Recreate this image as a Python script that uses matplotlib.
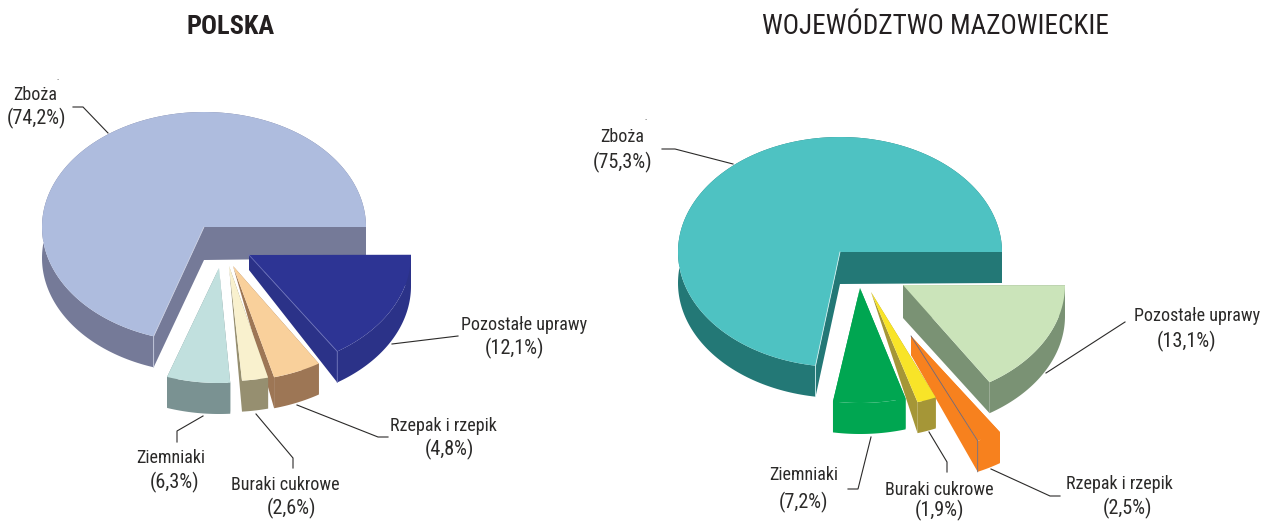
import numpy as np
import matplotlib
matplotlib.use('Agg')
import matplotlib.pyplot as plt
from matplotlib import font_manager as fm

categories = ['Zboża', 'Pozostałe uprawy', 'Rzepak i rzepik', 'Buraki cukrowe', 'Ziemniaki']
polska = [74.2, 12.1, 4.8, 2.6, 6.3]
mazowieckie = [75.3, 13.1, 2.5, 1.9, 7.2]
titles = ['POLSKA', 'WOJEWÓDZTWO MAZOWIECKIE']

# layout, in figure pixels: apex x, apex y, start angle, sweep factor, depth at apex
layout_pl = [(204, 227, 0, 0.943, 33), (249, 255, -57, 1.31, 15), (233, 266, -75.3, 1, 0),
             (229, 266, -85.4, 1, 0), (219, 268, -108.7, 1, 0)]
layout_maz = [(840, 252, 0, 0.964, 32), (903, 285, -57.7, 1.22, 33), (911, 336, -65.7, 1, 19),
              (871, 292, -73.3, 1, 0), (860, 288, -99.6, 1, 0)]

top_pl = ['#aebcde', '#2d3494', '#f9d09b', '#f9f1ce', '#c1e0de']
side_pl = ['#757a98', '#2b3288', '#9d7655', '#968f70', '#7a9292']
top_maz = ['#4ec2c2', '#cbe4ba', '#f7811e', '#f8e428', '#00a651']
side_maz = ['#237876', '#7a9274', '#f7811e', '#a59637', '#00a651']
edge_pl = ['#c8cde0', '#6a70b8', None, None, None]
edge_maz = ['#d0eeee', None, '#6a6a80', None, None]

leaders_pl = [[(73, 107), (83, 107), (108, 133)], [(392, 344), (458, 336)],
              [(297, 405), (378, 437), (388, 437)], [(256, 414), (293, 458), (293, 468)],
              [(203, 416), (177, 431), (177, 442)]]
leaders_maz = [[(662, 149), (675, 149), (733, 164)], [(1046, 373), (1125, 322)],
               [(991, 469), (1050, 496), (1060, 496)], [(929, 432), (947, 462), (947, 472)],
               [(871, 437), (858, 489), (848, 489)]]

# label centres: name x, name y, value x, value y
labels_pl = [(35, 95, 36, 118), (524, 325, 514, 348), (443, 426, 449, 449),
             (285, 485, 291, 508), (171, 458, 175, 482)]
labels_maz = [(622, 137, 623, 162), (1197, 316, 1187, 341), (1119, 484, 1127, 508),
              (939, 490, 939, 510), (804, 475, 804, 502)]

RX, RY, DEPTH = 162, 115, 31

names = {f.name for f in fm.fontManager.ttflist}
narrow = next((n for n in ['Roboto Condensed', 'Archivo Narrow', 'PT Sans Narrow'] if n in names),
              'Liberation Sans')
plt.rcParams['font.family'] = [narrow, 'DejaVu Sans']
label_size = 13 if narrow != 'Liberation Sans' else 11.2
value_size = label_size * 1.12

fig = plt.figure(figsize=(12.64, 5.21), dpi=100)
ax = fig.add_axes([0, 0, 1, 1])
ax.set_xlim(0, 1264)
ax.set_ylim(521, 0)
ax.axis('off')


def draw_slice(value, pos, top, side, edge):
    cx, cy, start, factor, apex_depth = pos
    theta = np.radians(np.linspace(start, start + value * 3.6 * factor, 200))
    x = cx + RX * np.cos(theta)
    y = cy - RY * np.sin(theta)
    # outer band and the two cut faces
    ax.fill(np.r_[x, x[::-1]], np.r_[y, y[::-1] + DEPTH], color=side, lw=0)
    for i in (0, -1):
        ax.fill([cx, x[i], x[i], cx], [cy, y[i], y[i] + DEPTH, cy + apex_depth], color=side, lw=0)
    ax.fill(np.r_[cx, x], np.r_[cy, y], color=top, lw=0)
    if edge:
        i = -1 if start == 0 else 0
        ax.plot([cx, x[i], x[i]], [cy, y[i], y[i] + DEPTH], color=edge, lw=0.6)


def draw_pie(values, layout, tops, sides, edges):
    for val, pos, t, s, e in zip(values, layout, tops, sides, edges):
        draw_slice(val, pos, t, s, e)


def draw_labels(values, leaders, labels):
    for cat, val, pts, lab in zip(categories, values, leaders, labels):
        ax.plot(*zip(*pts), color='#2b2a29', lw=0.8, solid_joinstyle='miter')
        ax.text(lab[0], lab[1], cat, ha='center', va='center', fontsize=label_size, color='#2b2a29')
        ax.text(lab[2], lab[3], '(%s%%)' % str(val).replace('.', ','), ha='center', va='center',
                fontsize=value_size, color='#2b2a29')


draw_pie(polska, layout_pl, top_pl, side_pl, edge_pl)
draw_pie(mazowieckie, layout_maz, top_maz, side_maz, edge_maz)
draw_labels(polska, leaders_pl, labels_pl)
draw_labels(mazowieckie, leaders_maz, labels_maz)

ax.text(58, 83, '´', fontsize=5, ha='center', va='center', color='#2b2a29')
ax.text(646, 124, '´', fontsize=5, ha='center', va='center', color='#2b2a29')

ax.text(231, 27, titles[0], ha='center', va='center', fontsize=19, fontweight='bold', color='#231f20')
ax.text(935, 27, titles[1], ha='center', va='center', fontsize=19.6, color='#231f20')

fig.savefig('out.png', dpi=100)
